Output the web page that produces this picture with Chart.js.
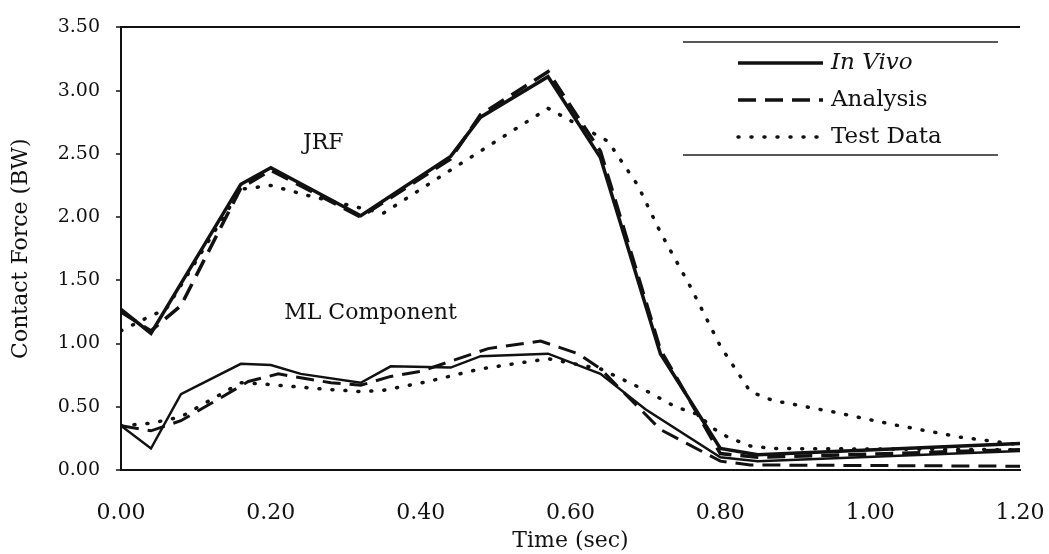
<!DOCTYPE html>
<html>
<head>
<meta charset="utf-8">
<script src="https://cdn.jsdelivr.net/npm/chart.js@4.4.1/dist/chart.umd.min.js"></script>
<style>
html, body { margin: 0; padding: 0; background: #fff; }
</style>
</head>
<body>
<canvas id="myChart" width="1049" height="554"></canvas>
<script>
// tick labels
const xTickLabels = ['0.00', '0.20', '0.40', '0.60', '0.80', '1.00', '1.20'];
const yTickLabels = ['0.00', '0.50', '1.00', '1.50', '2.00', '2.50', '3.00', '3.50'];
const legendNames = ['In Vivo', 'Analysis', 'Test Data'];

// JRF curves (time in sec, force in BW)
const jrfVivoTime = [0, 0.04, 0.16, 0.20, 0.32, 0.44, 0.48, 0.57, 0.64, 0.72, 0.80, 0.85, 1.20];
const jrfVivo     = [1.27, 1.08, 2.26, 2.39, 2.01, 2.48, 2.79, 3.11, 2.47, 0.92, 0.17, 0.12, 0.21];

const jrfAnalysisTime = [0, 0.04, 0.08, 0.16, 0.20, 0.32, 0.44, 0.48, 0.57, 0.64, 0.72, 0.80, 0.85, 1.20];
const jrfAnalysis     = [1.25, 1.10, 1.30, 2.23, 2.37, 2.00, 2.46, 2.81, 3.15, 2.52, 0.95, 0.13, 0.10, 0.16];

const jrfTestTime = [0, 0.04, 0.06, 0.16, 0.20, 0.25, 0.35, 0.45, 0.57, 0.65, 0.69, 0.72, 0.76, 0.80, 0.84, 0.87, 0.95, 1.03, 1.12, 1.20];
const jrfTest     = [1.10, 1.22, 1.27, 2.22, 2.25, 2.17, 2.03, 2.41, 2.86, 2.60, 2.25, 1.88, 1.45, 0.98, 0.62, 0.55, 0.46, 0.36, 0.26, 0.20];

// ML component curves
const mlVivoTime = [0, 0.04, 0.08, 0.16, 0.20, 0.24, 0.32, 0.36, 0.44, 0.48, 0.57, 0.64, 0.70, 0.80, 0.85, 1.20];
const mlVivo     = [0.35, 0.17, 0.60, 0.84, 0.83, 0.76, 0.69, 0.82, 0.81, 0.90, 0.92, 0.76, 0.48, 0.10, 0.07, 0.15];

const mlAnalysisTime = [0, 0.04, 0.08, 0.13, 0.17, 0.21, 0.28, 0.32, 0.36, 0.40, 0.49, 0.56, 0.61, 0.64, 0.72, 0.80, 0.84, 1.20];
const mlAnalysis     = [0.35, 0.31, 0.39, 0.56, 0.70, 0.76, 0.69, 0.67, 0.74, 0.78, 0.96, 1.02, 0.92, 0.80, 0.32, 0.07, 0.04, 0.03];

const mlTestTime = [0, 0.04, 0.08, 0.16, 0.19, 0.27, 0.32, 0.35, 0.41, 0.48, 0.57, 0.64, 0.70, 0.74, 0.77, 0.79, 0.81, 0.84, 0.87, 1.20];
const mlTest     = [0.35, 0.37, 0.42, 0.69, 0.68, 0.64, 0.62, 0.63, 0.70, 0.80, 0.88, 0.80, 0.63, 0.50, 0.44, 0.33, 0.26, 0.19, 0.17, 0.16];

function pts(t, v) {
    return t.map((x, i) => ({ x: x, y: v[i] }));
}

const ink = '#111';
Chart.defaults.color = ink;
Chart.defaults.font.family = '"DejaVu Serif", serif';

const solid = { borderColor: ink, borderDash: [], borderCapStyle: 'butt' };
const dashed = { borderColor: ink, borderDash: [18, 9], borderCapStyle: 'butt' };
const dotted = { borderColor: ink, borderDash: [1, 12], borderCapStyle: 'round' };

// legend drawn inside the plot, top right
const legendBox = {
    id: 'legendBox',
    afterDraw(chart) {
        const c = chart.ctx;
        c.save();
        c.strokeStyle = '#222';
        c.lineWidth = 1.5;
        c.beginPath();
        c.moveTo(683, 42); c.lineTo(998, 42);
        c.moveTo(683, 155); c.lineTo(998, 155);
        c.stroke();
        const rows = [63, 100, 137];
        legendNames.forEach((name, i) => {
            const ds = chart.data.datasets[i];
            c.strokeStyle = ink;
            c.lineWidth = ds.borderWidth;
            c.lineCap = ds.borderCapStyle;
            c.setLineDash(ds.borderDash);
            c.beginPath();
            c.moveTo(738, rows[i]);
            c.lineTo(823, rows[i]);
            c.stroke();
            c.setLineDash([]);
            c.font = (i === 0 ? 'italic ' : '') + '23px "DejaVu Serif"';
            c.textBaseline = 'middle';
            c.fillStyle = ink;
            c.fillText(name, 831, rows[i]);
        });
        c.restore();
    }
};

// curve labels placed in data coordinates
const curveLabels = {
    id: 'curveLabels',
    afterDatasetsDraw(chart) {
        const c = chart.ctx;
        const xs = chart.scales.x, ys = chart.scales.y;
        c.save();
        c.fillStyle = ink;
        c.textAlign = 'center';
        c.textBaseline = 'middle';
        c.font = '22px "DejaVu Serif"';
        c.fillText('JRF', xs.getPixelForValue(0.27), ys.getPixelForValue(2.58));
        c.fillText('ML Component', xs.getPixelForValue(0.333), ys.getPixelForValue(1.24));
        c.restore();
    }
};

const ctx = document.getElementById('myChart');

var chart = new Chart(ctx, {
    type: 'line',
    data: {
        datasets: [
            { label: 'JRF In Vivo', data: pts(jrfVivoTime, jrfVivo), borderWidth: 3.5, ...solid },
            { label: 'JRF Analysis', data: pts(jrfAnalysisTime, jrfAnalysis), borderWidth: 3.5, ...dashed },
            { label: 'JRF Test Data', data: pts(jrfTestTime, jrfTest), borderWidth: 3.5, ...dotted },
            { label: 'ML In Vivo', data: pts(mlVivoTime, mlVivo), borderWidth: 2.5, ...solid },
            { label: 'ML Analysis', data: pts(mlAnalysisTime, mlAnalysis), borderWidth: 3, ...dashed },
            { label: 'ML Test Data', data: pts(mlTestTime, mlTest), borderWidth: 3.5, ...dotted }
        ]
    },
    options: {
        responsive: false,
        animation: false,
        layout: { padding: { left: 0, right: 29, top: 27, bottom: 0 } },
        elements: {
            point: { radius: 0 },
            line: { tension: 0, fill: false }
        },
        plugins: {
            legend: { display: false },
            tooltip: { enabled: false }
        },
        scales: {
            x: {
                type: 'linear',
                min: 0,
                max: 1.2,
                border: { display: true, color: ink, width: 2 },
                grid: {
                    display: true,
                    drawOnChartArea: false,
                    drawTicks: true,
                    tickLength: 28,
                    tickColor: 'rgba(0,0,0,0)'
                },
                ticks: {
                    stepSize: 0.2,
                    padding: 2,
                    maxRotation: 0,
                    font: { size: 22 },
                    callback: (v, i) => xTickLabels[i]
                },
                title: {
                    display: true,
                    text: 'Time (sec)',
                    font: { size: 22 },
                    padding: { top: 0, bottom: 0 }
                },
                afterFit: (s) => { s.height = 84; }
            },
            y: {
                min: 0,
                max: 3.5,
                border: { display: true, color: ink, width: 2 },
                grid: {
                    drawOnChartArea: true,
                    color: (c) => (c.tick && c.tick.value === 3.5) ? ink : 'rgba(0,0,0,0)',
                    lineWidth: 2,
                    tickColor: ink,
                    tickLength: 5,
                    tickWidth: 1.5
                },
                ticks: {
                    stepSize: 0.5,
                    padding: 16,
                    font: { size: 19 },
                    callback: (v, i) => yTickLabels[i]
                },
                title: {
                    display: true,
                    text: 'Contact Force (BW)',
                    font: { size: 22 },
                    padding: { top: 8, bottom: 0 }
                },
                afterFit: (s) => { s.width = 121; }
            }
        }
    },
    plugins: [legendBox, curveLabels]
});
</script>
</body>
</html>
